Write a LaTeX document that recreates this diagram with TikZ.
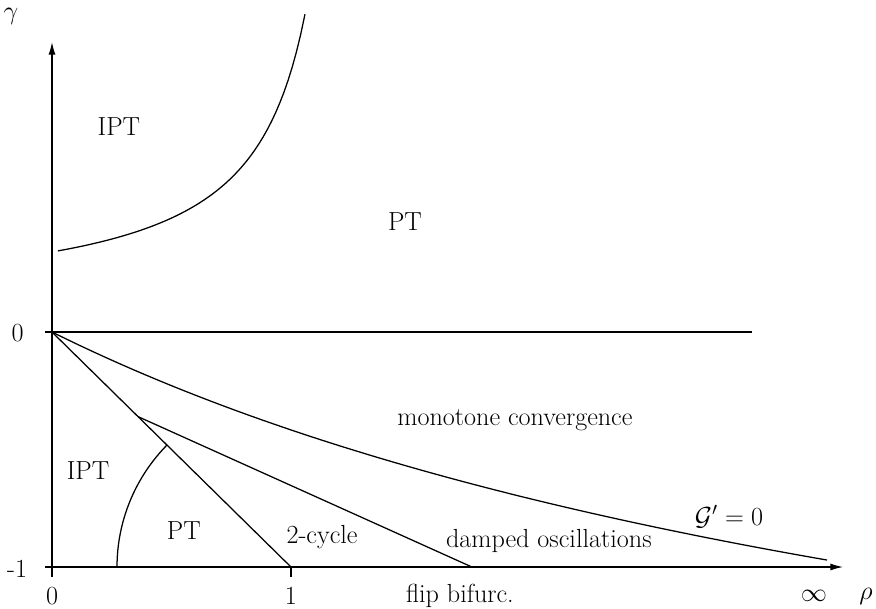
\RequirePackage{fix-cm}
\documentclass[tikz,border=0pt]{standalone}
\usepackage{tikz}
\usetikzlibrary{arrows.meta,positioning,calc}
\usepackage{amsmath}

\begin{document}
\begin{tikzpicture}[
  x=5.975cm, y=5.875cm,
  region/.style={font=\fontsize{18.6}{22}\selectfont, inner sep=0pt},
  border/.style={line width=0.9pt},
  axis/.style={line width=0.9pt, -{Latex[length=9pt,width=5pt]}},
]
  \useasboundingbox (-0.2176,-1.1745) rectangle (3.448,1.413);
  \coordinate (origin) at (0,0);
  \coordinate (corner) at (0,-1);
  \coordinate (one) at (1,-1);
  \coordinate (branch) at (0.36,-0.36);
  % axes
  \draw[axis] (0,-1.043) -- (0,1.234);
  \draw[axis] (-0.029,-1) -- (3.31,-1);
  \draw[border] (-0.029,0) -- (2.929,0);
  \draw[border] (one) -- (1,-1.043);
  % boundaries
  \draw[border] plot[domain=0.025:1.059,samples=60] (\x,{0.110+0.3/(1.3-\x)});
  \draw[border] plot[domain=0:3.243,samples=60] (\x,{-\x/(1.98+0.42*\x)});
  \draw[border] (origin) -- (one);
  \draw[border] (branch) -- (1.757,-1);
  \draw[border] (0.272,-1) arc[start angle=180,end angle=135.5,x radius=0.728,y radius=0.74];
  % labels
  \node[region] (gam) at (-0.172,1.345) {$\gamma$};
  \node[region] (g0) at (-0.144,-0.004) {0};
  \node[region] (gm1) at (-0.146,-1.009) {-1};
  \node[region] (r0) at (0,-1.123) {0};
  \node[region] (r1) at (1,-1.123) {1};
  \node[region] (flip) at (1.707,-1.123) {flip bifurc.};
  \node[region] (rinf) at (3.188,-1.123) {$\infty$};
  \node[region] (rho) at (3.406,-1.123) {$\rho$};
  \node[region] (ipt1) at (0.28,0.875) {IPT};
  \node[region] (pt1) at (1.477,0.472) {PT};
  \node[region] (mono) at (1.937,-0.375) {monotone convergence};
  \node[region] (ipt2) at (0.151,-0.589) {IPT};
  \node[region] (pt2) at (0.552,-0.845) {PT};
  \node[region] (cyc) at (1.13,-0.872) {2-cycle};
  \node[region] (damp) at (2.079,-0.89) {damped oscillations};
  \node[region] (gzero) at (2.833,-0.785) {$\mathcal{G}'=0$};
\end{tikzpicture}
\end{document}
